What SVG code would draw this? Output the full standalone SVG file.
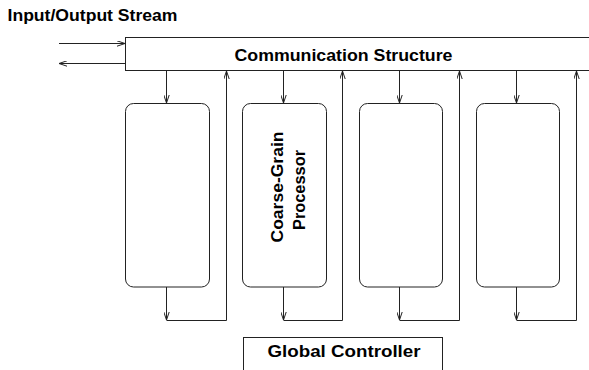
<svg xmlns="http://www.w3.org/2000/svg" width="589" height="370" viewBox="0 0 589 370">
<style>
.ln{fill:none;stroke:#222;stroke-width:1}
.bx{fill:#fff;stroke:#222;stroke-width:1}
.t{font-family:"Liberation Sans",Arial,sans-serif;font-weight:bold;font-size:16px;fill:#000}
</style>
<defs>
<marker id="ah" viewBox="0 0 8 6" refX="8" refY="3" markerWidth="8" markerHeight="6" markerUnits="userSpaceOnUse" orient="auto">
<path d="M0,0.3 L8,3 L0,5.7" fill="none" stroke="#222" stroke-width="1"/>
</marker>
</defs>
<rect width="589" height="370" fill="#fff"/>
<text class="t" x="7.5" y="21" textLength="170" lengthAdjust="spacingAndGlyphs">Input/Output Stream</text>
<g id="comm">
<rect class="bx" x="125.5" y="37.5" width="480" height="33"/>
<text class="t" x="234.5" y="61" textLength="218" lengthAdjust="spacingAndGlyphs">Communication Structure</text>
</g>
<g id="p1"><rect class="bx" x="125.5" y="103.5" width="84" height="183.5" rx="8"/></g>
<g id="p2"><rect class="bx" x="242.5" y="103.5" width="84" height="183.5" rx="8"/>
<text class="t" transform="translate(283,187) rotate(-90)" text-anchor="middle" textLength="111" lengthAdjust="spacingAndGlyphs">Coarse-Grain</text>
<text class="t" transform="translate(305,190) rotate(-90)" text-anchor="middle" textLength="80" lengthAdjust="spacingAndGlyphs">Processor</text>
</g>
<g id="p3"><rect class="bx" x="359.5" y="103.5" width="83" height="183.5" rx="8"/></g>
<g id="p4"><rect class="bx" x="476.5" y="103.5" width="83" height="183.5" rx="8"/></g>
<g id="gc">
<rect class="bx" x="243.5" y="337.5" width="199" height="45"/>
<text class="t" x="267.5" y="357" textLength="153" lengthAdjust="spacingAndGlyphs">Global Controller</text>
</g>
<g id="connectors" class="ln" marker-end="url(#ah)">
<path class="ln" d="M59,43.5 H125" marker-end="url(#ah)"/>
<path class="ln" d="M125,63.5 H59" marker-end="url(#ah)"/>
<path class="ln" d="M166.5,71 V103" marker-end="url(#ah)"/>
<path class="ln" d="M283.5,71 V103" marker-end="url(#ah)"/>
<path class="ln" d="M399.5,71 V103" marker-end="url(#ah)"/>
<path class="ln" d="M516.5,71 V103" marker-end="url(#ah)"/>
<path class="ln" d="M166.5,287 V320" marker-end="url(#ah)"/>
<path class="ln" d="M283.5,287 V320" marker-end="url(#ah)"/>
<path class="ln" d="M399.5,287 V320" marker-end="url(#ah)"/>
<path class="ln" d="M516.5,287 V320" marker-end="url(#ah)"/>
<path class="ln" d="M166.5,320.5 H226.5 V71" marker-end="url(#ah)"/>
<path class="ln" d="M283.5,320.5 H342.5 V71" marker-end="url(#ah)"/>
<path class="ln" d="M399.5,320.5 H459.5 V71" marker-end="url(#ah)"/>
<path class="ln" d="M516.5,320.5 H576.5 V71" marker-end="url(#ah)"/>
</g>
</svg>
